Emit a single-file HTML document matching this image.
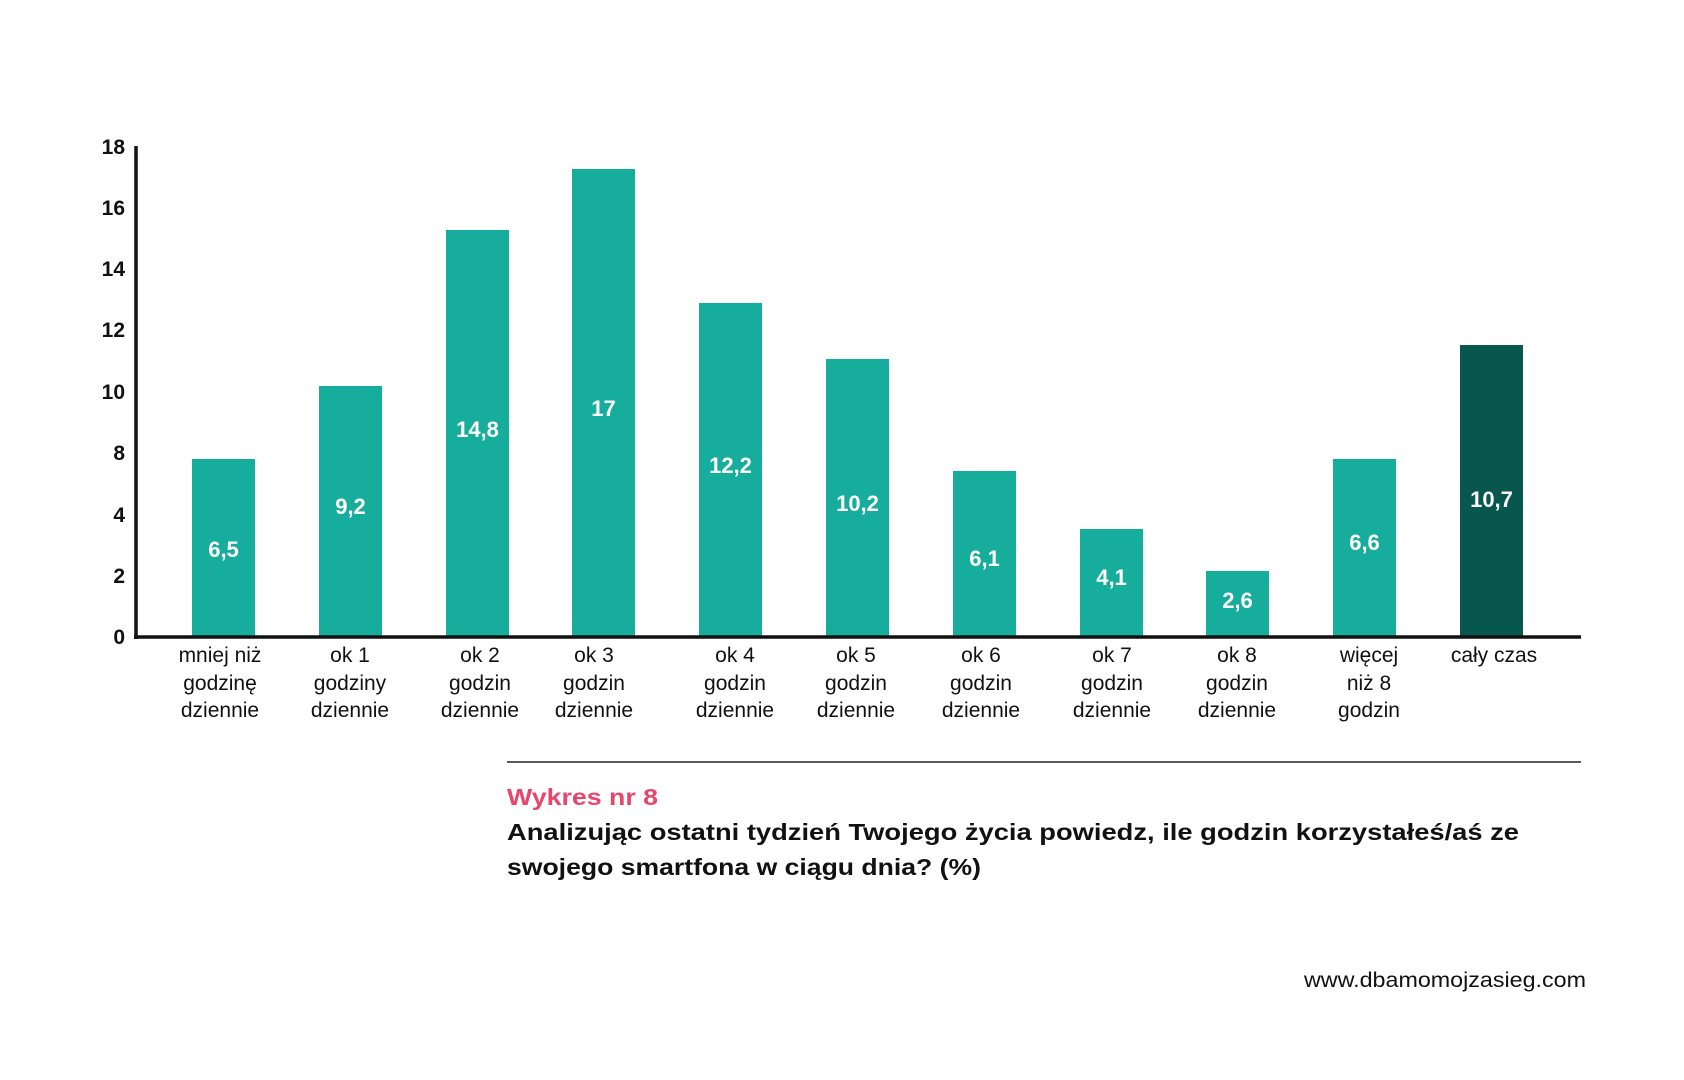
<!DOCTYPE html>
<html><head><meta charset="utf-8"><style>
html,body{margin:0;padding:0;background:#fff;}
svg{display:block;font-family:"Liberation Sans",sans-serif;}
</style></head><body>
<svg width="1684" height="1080" viewBox="0 0 1684 1080" xmlns="http://www.w3.org/2000/svg">
<rect width="1684" height="1080" fill="#fff"/>
<g transform="translate(0,-3)">
<g font-size="21" font-weight="bold" fill="#111" text-anchor="end">
<text x="125" y="157">18</text>
<text x="125" y="218">16</text>
<text x="125" y="279">14</text>
<text x="125" y="340">12</text>
<text x="125" y="402">10</text>
<text x="125" y="463">8</text>
<text x="125" y="525">4</text>
<text x="125" y="586">2</text>
<text x="125" y="647">0</text>
</g>
<g fill="#17ad9c">
<rect x="192" y="462" width="63" height="178"/>
<rect x="319" y="389" width="63" height="251"/>
<rect x="446" y="233" width="63" height="407"/>
<rect x="572" y="172" width="63" height="468"/>
<rect x="699" y="306" width="63" height="334"/>
<rect x="826" y="362" width="63" height="278"/>
<rect x="953" y="474" width="63" height="166"/>
<rect x="1080" y="532" width="63" height="108"/>
<rect x="1206" y="574" width="63" height="66"/>
<rect x="1333" y="462" width="63" height="178"/>
</g>
<rect x="1460" y="348" width="63" height="292" fill="#07574f"/>
<line x1="136" y1="149" x2="136" y2="642" stroke="#111" stroke-width="3.5"/>
<line x1="134" y1="640" x2="1581" y2="640" stroke="#111" stroke-width="3.5"/>
<g font-size="22" font-weight="bold" fill="#fff" text-anchor="middle">
<text x="223.5" y="560">6,5</text>
<text x="350.5" y="517">9,2</text>
<text x="477.5" y="440">14,8</text>
<text x="603.5" y="419">17</text>
<text x="730.5" y="476">12,2</text>
<text x="857.5" y="514">10,2</text>
<text x="984.5" y="569">6,1</text>
<text x="1111.5" y="588">4,1</text>
<text x="1237.5" y="611">2,6</text>
<text x="1364.5" y="553">6,6</text>
<text x="1491.5" y="510">10,7</text>
</g>
<g font-size="21" fill="#111" text-anchor="middle">
<text x="220" y="665">mniej niż</text><text x="220" y="693">godzinę</text><text x="220" y="720">dziennie</text>
<text x="350" y="665">ok 1</text><text x="350" y="693">godziny</text><text x="350" y="720">dziennie</text>
<text x="480" y="665">ok 2</text><text x="480" y="693">godzin</text><text x="480" y="720">dziennie</text>
<text x="594" y="665">ok 3</text><text x="594" y="693">godzin</text><text x="594" y="720">dziennie</text>
<text x="735" y="665">ok 4</text><text x="735" y="693">godzin</text><text x="735" y="720">dziennie</text>
<text x="856" y="665">ok 5</text><text x="856" y="693">godzin</text><text x="856" y="720">dziennie</text>
<text x="981" y="665">ok 6</text><text x="981" y="693">godzin</text><text x="981" y="720">dziennie</text>
<text x="1112" y="665">ok 7</text><text x="1112" y="693">godzin</text><text x="1112" y="720">dziennie</text>
<text x="1237" y="665">ok 8</text><text x="1237" y="693">godzin</text><text x="1237" y="720">dziennie</text>
<text x="1369" y="665">więcej</text><text x="1369" y="693">niż 8</text><text x="1369" y="720">godzin</text>
<text x="1494" y="665">cały czas</text>
</g>
<line x1="507" y1="765" x2="1581" y2="765" stroke="#222" stroke-width="1.6"/>
<text x="507" y="808" font-size="23" font-weight="bold" fill="#e8466d" textLength="151" lengthAdjust="spacingAndGlyphs">Wykres nr 8</text>
<g font-size="23" font-weight="bold" fill="#111">
<text x="507" y="843" textLength="1012" lengthAdjust="spacingAndGlyphs">Analizując ostatni tydzień Twojego życia powiedz, ile godzin korzystałeś/aś ze</text>
<text x="507" y="878" textLength="474" lengthAdjust="spacingAndGlyphs">swojego smartfona w ciągu dnia? (%)</text>
</g>
<text x="1586" y="990" font-size="21" fill="#111" text-anchor="end" textLength="282" lengthAdjust="spacingAndGlyphs">www.dbamomojzasieg.com</text>
</g>
</svg>
</body></html>
